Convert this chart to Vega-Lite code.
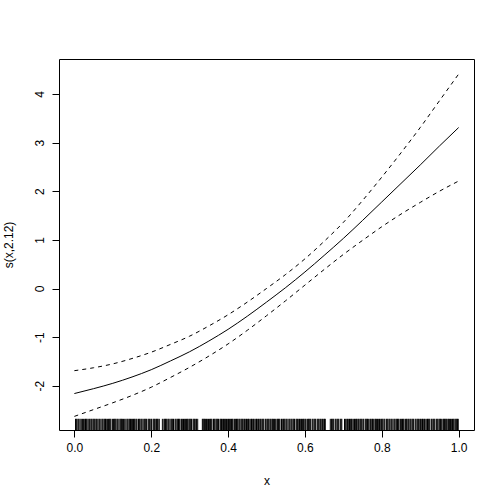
{
  "$schema": "https://vega.github.io/schema/vega-lite/v6.json",
  "autosize": "none",
  "padding": {"left": 59, "top": 59, "right": 30, "bottom": 74},
  "width": 415,
  "height": 371,
  "background": "white",
  "datasets": {
    "fit": [
      {"x": 0.00, "fit": -2.16, "upper": -1.69, "lower": -2.63},
      {"x": 0.05, "fit": -2.06, "upper": -1.63, "lower": -2.49},
      {"x": 0.10, "fit": -1.95, "upper": -1.55, "lower": -2.35},
      {"x": 0.15, "fit": -1.82, "upper": -1.44, "lower": -2.20},
      {"x": 0.20, "fit": -1.67, "upper": -1.31, "lower": -2.03},
      {"x": 0.25, "fit": -1.49, "upper": -1.15, "lower": -1.83},
      {"x": 0.30, "fit": -1.30, "upper": -0.98, "lower": -1.62},
      {"x": 0.35, "fit": -1.08, "upper": -0.77, "lower": -1.39},
      {"x": 0.40, "fit": -0.84, "upper": -0.54, "lower": -1.14},
      {"x": 0.45, "fit": -0.57, "upper": -0.28, "lower": -0.86},
      {"x": 0.50, "fit": -0.28, "upper": 0.00, "lower": -0.56},
      {"x": 0.55, "fit": 0.02, "upper": 0.29, "lower": -0.25},
      {"x": 0.60, "fit": 0.34, "upper": 0.61, "lower": 0.07},
      {"x": 0.65, "fit": 0.68, "upper": 0.97, "lower": 0.39},
      {"x": 0.70, "fit": 1.03, "upper": 1.36, "lower": 0.70},
      {"x": 0.75, "fit": 1.40, "upper": 1.81, "lower": 0.99},
      {"x": 0.80, "fit": 1.78, "upper": 2.29, "lower": 1.27},
      {"x": 0.85, "fit": 2.16, "upper": 2.79, "lower": 1.53},
      {"x": 0.90, "fit": 2.54, "upper": 3.31, "lower": 1.77},
      {"x": 0.95, "fit": 2.93, "upper": 3.86, "lower": 2.00},
      {"x": 1.00, "fit": 3.31, "upper": 4.41, "lower": 2.21}
    ],
    "rug": [
      {"x": 0.003}, {"x": 0.007}, {"x": 0.012}, {"x": 0.015}, {"x": 0.021}, {"x": 0.024}, {"x": 0.029}, {"x": 0.033}, {"x": 0.036}, {"x": 0.041},
      {"x": 0.046}, {"x": 0.049}, {"x": 0.053}, {"x": 0.058}, {"x": 0.061}, {"x": 0.066}, {"x": 0.069}, {"x": 0.074}, {"x": 0.079}, {"x": 0.083},
      {"x": 0.086}, {"x": 0.091}, {"x": 0.095}, {"x": 0.099}, {"x": 0.104}, {"x": 0.108}, {"x": 0.113}, {"x": 0.116}, {"x": 0.121}, {"x": 0.125},
      {"x": 0.128}, {"x": 0.134}, {"x": 0.137}, {"x": 0.142}, {"x": 0.146}, {"x": 0.151}, {"x": 0.154}, {"x": 0.158}, {"x": 0.163}, {"x": 0.167},
      {"x": 0.171}, {"x": 0.176}, {"x": 0.179}, {"x": 0.184}, {"x": 0.188}, {"x": 0.192}, {"x": 0.196}, {"x": 0.201}, {"x": 0.205}, {"x": 0.209},
      {"x": 0.214}, {"x": 0.218}, {"x": 0.229}, {"x": 0.233}, {"x": 0.237}, {"x": 0.241}, {"x": 0.246}, {"x": 0.249}, {"x": 0.254}, {"x": 0.258},
      {"x": 0.262}, {"x": 0.267}, {"x": 0.271}, {"x": 0.275}, {"x": 0.279}, {"x": 0.284}, {"x": 0.287}, {"x": 0.292}, {"x": 0.296}, {"x": 0.301},
      {"x": 0.305}, {"x": 0.309}, {"x": 0.313}, {"x": 0.318}, {"x": 0.321}, {"x": 0.333}, {"x": 0.337}, {"x": 0.341}, {"x": 0.346}, {"x": 0.349},
      {"x": 0.354}, {"x": 0.358}, {"x": 0.362}, {"x": 0.366}, {"x": 0.371}, {"x": 0.375}, {"x": 0.379}, {"x": 0.383}, {"x": 0.388}, {"x": 0.391},
      {"x": 0.396}, {"x": 0.401}, {"x": 0.404}, {"x": 0.409}, {"x": 0.413}, {"x": 0.417}, {"x": 0.422}, {"x": 0.426}, {"x": 0.429}, {"x": 0.434},
      {"x": 0.438}, {"x": 0.443}, {"x": 0.446}, {"x": 0.451}, {"x": 0.455}, {"x": 0.459}, {"x": 0.463}, {"x": 0.468}, {"x": 0.472}, {"x": 0.476},
      {"x": 0.481}, {"x": 0.484}, {"x": 0.489}, {"x": 0.493}, {"x": 0.497}, {"x": 0.502}, {"x": 0.506}, {"x": 0.509}, {"x": 0.514}, {"x": 0.518},
      {"x": 0.523}, {"x": 0.527}, {"x": 0.531}, {"x": 0.535}, {"x": 0.539}, {"x": 0.544}, {"x": 0.548}, {"x": 0.551}, {"x": 0.556}, {"x": 0.561},
      {"x": 0.564}, {"x": 0.569}, {"x": 0.573}, {"x": 0.577}, {"x": 0.581}, {"x": 0.586}, {"x": 0.589}, {"x": 0.594}, {"x": 0.598}, {"x": 0.603},
      {"x": 0.607}, {"x": 0.611}, {"x": 0.615}, {"x": 0.619}, {"x": 0.624}, {"x": 0.628}, {"x": 0.632}, {"x": 0.636}, {"x": 0.641}, {"x": 0.644},
      {"x": 0.649}, {"x": 0.653}, {"x": 0.666}, {"x": 0.671}, {"x": 0.675}, {"x": 0.679}, {"x": 0.684}, {"x": 0.688}, {"x": 0.692}, {"x": 0.696},
      {"x": 0.706}, {"x": 0.711}, {"x": 0.714}, {"x": 0.719}, {"x": 0.723}, {"x": 0.727}, {"x": 0.732}, {"x": 0.736}, {"x": 0.739}, {"x": 0.744},
      {"x": 0.748}, {"x": 0.753}, {"x": 0.757}, {"x": 0.761}, {"x": 0.765}, {"x": 0.769}, {"x": 0.774}, {"x": 0.778}, {"x": 0.782}, {"x": 0.786},
      {"x": 0.791}, {"x": 0.794}, {"x": 0.799}, {"x": 0.803}, {"x": 0.808}, {"x": 0.812}, {"x": 0.816}, {"x": 0.819}, {"x": 0.824}, {"x": 0.829},
      {"x": 0.832}, {"x": 0.837}, {"x": 0.841}, {"x": 0.845}, {"x": 0.849}, {"x": 0.854}, {"x": 0.858}, {"x": 0.862}, {"x": 0.866}, {"x": 0.871},
      {"x": 0.874}, {"x": 0.879}, {"x": 0.883}, {"x": 0.887}, {"x": 0.892}, {"x": 0.896}, {"x": 0.899}, {"x": 0.904}, {"x": 0.908}, {"x": 0.913},
      {"x": 0.917}, {"x": 0.921}, {"x": 0.925}, {"x": 0.929}, {"x": 0.934}, {"x": 0.938}, {"x": 0.942}, {"x": 0.946}, {"x": 0.951}, {"x": 0.955},
      {"x": 0.959}, {"x": 0.963}, {"x": 0.967}, {"x": 0.972}, {"x": 0.976}, {"x": 0.979}, {"x": 0.984}, {"x": 0.988}, {"x": 0.993}, {"x": 0.997},
      {"x": 0.005}, {"x": 0.010}, {"x": 0.018}, {"x": 0.027}, {"x": 0.031}, {"x": 0.039}, {"x": 0.044}, {"x": 0.051}, {"x": 0.056}, {"x": 0.064},
      {"x": 0.072}, {"x": 0.077}, {"x": 0.081}, {"x": 0.089}, {"x": 0.093}, {"x": 0.102}, {"x": 0.106}, {"x": 0.111}, {"x": 0.119}, {"x": 0.123},
      {"x": 0.131}, {"x": 0.139}, {"x": 0.144}, {"x": 0.149}, {"x": 0.156}, {"x": 0.161}, {"x": 0.169}, {"x": 0.174}, {"x": 0.182}, {"x": 0.186},
      {"x": 0.194}, {"x": 0.199}, {"x": 0.207}, {"x": 0.212}, {"x": 0.216}, {"x": 0.221}, {"x": 0.235}, {"x": 0.239}, {"x": 0.244}, {"x": 0.252},
      {"x": 0.256}, {"x": 0.264}, {"x": 0.269}, {"x": 0.273}, {"x": 0.281}, {"x": 0.289}, {"x": 0.294}, {"x": 0.299}, {"x": 0.303}, {"x": 0.311},
      {"x": 0.316}, {"x": 0.335}, {"x": 0.339}, {"x": 0.344}, {"x": 0.352}, {"x": 0.356}, {"x": 0.364}, {"x": 0.369}, {"x": 0.373}, {"x": 0.381},
      {"x": 0.386}, {"x": 0.393}, {"x": 0.399}, {"x": 0.406}, {"x": 0.411}, {"x": 0.419}, {"x": 0.424}, {"x": 0.431}, {"x": 0.436}, {"x": 0.441},
      {"x": 0.448}, {"x": 0.453}, {"x": 0.461}, {"x": 0.466}, {"x": 0.474}, {"x": 0.479}, {"x": 0.486}, {"x": 0.491}, {"x": 0.499}, {"x": 0.504},
      {"x": 0.511}, {"x": 0.516}, {"x": 0.521}, {"x": 0.529}, {"x": 0.533}, {"x": 0.541}, {"x": 0.546}, {"x": 0.553}, {"x": 0.559}, {"x": 0.566},
      {"x": 0.571}, {"x": 0.579}, {"x": 0.584}, {"x": 0.591}, {"x": 0.596}, {"x": 0.601}, {"x": 0.609}, {"x": 0.613}, {"x": 0.621}, {"x": 0.626},
      {"x": 0.634}, {"x": 0.639}, {"x": 0.646}, {"x": 0.651}, {"x": 0.669}, {"x": 0.673}, {"x": 0.681}, {"x": 0.686}, {"x": 0.694}, {"x": 0.703},
      {"x": 0.709}, {"x": 0.716}, {"x": 0.721}, {"x": 0.729}, {"x": 0.734}, {"x": 0.741}, {"x": 0.746}, {"x": 0.751}, {"x": 0.759}, {"x": 0.763},
      {"x": 0.771}, {"x": 0.776}, {"x": 0.784}, {"x": 0.789}, {"x": 0.796}, {"x": 0.801}, {"x": 0.806}, {"x": 0.814}, {"x": 0.821}, {"x": 0.826},
      {"x": 0.834}, {"x": 0.839}, {"x": 0.843}, {"x": 0.851}, {"x": 0.856}, {"x": 0.864}, {"x": 0.869}, {"x": 0.876}, {"x": 0.881}, {"x": 0.889},
      {"x": 0.894}, {"x": 0.901}, {"x": 0.906}, {"x": 0.911}, {"x": 0.919}, {"x": 0.923}, {"x": 0.931}, {"x": 0.936}, {"x": 0.944}, {"x": 0.949},
      {"x": 0.953}, {"x": 0.961}, {"x": 0.965}, {"x": 0.969}, {"x": 0.974}, {"x": 0.981}, {"x": 0.986}, {"x": 0.991}, {"x": 0.995}, {"x": 0.999}
    ]
  },
  "encoding": {
    "x": {
      "field": "x",
      "type": "quantitative",
      "scale": {"domain": [-0.04, 1.04], "nice": false, "zero": false},
      "axis": {
        "title": "x",
        "values": [0, 0.2, 0.4, 0.6, 0.8, 1.0],
        "format": ".1f",
        "grid": false,
        "domain": false,
        "tickSize": 7,
        "tickColor": "black",
        "labelPadding": 5,
        "titlePadding": 22
      }
    }
  },
  "layer": [
    {
      "data": {"name": "rug"},
      "mark": {"type": "rule", "color": "black", "strokeWidth": 1},
      "encoding": {
        "y": {
          "datum": -2.91,
          "type": "quantitative",
          "scale": {"domain": [-2.91, 4.72], "nice": false, "zero": false},
          "axis": {
            "title": "s(x,2.12)",
            "values": [-2, -1, 0, 1, 2, 3, 4],
            "labelExpr": "'' + datum.value",
            "grid": false,
            "domain": false,
            "tickSize": 7,
            "tickColor": "black",
            "labelAngle": -90,
            "labelAlign": "center",
            "labelBaseline": "bottom",
            "labelPadding": 6,
            "titlePadding": 18
          }
        },
        "y2": {"datum": -2.68}
      }
    },
    {
      "data": {"name": "fit"},
      "mark": {"type": "line", "color": "black", "strokeWidth": 1, "interpolate": "monotone"},
      "encoding": {"y": {"field": "fit", "type": "quantitative"}}
    },
    {
      "data": {"name": "fit"},
      "mark": {"type": "line", "color": "black", "strokeWidth": 1, "strokeDash": [4, 4], "interpolate": "monotone"},
      "encoding": {"y": {"field": "upper", "type": "quantitative"}}
    },
    {
      "data": {"name": "fit"},
      "mark": {"type": "line", "color": "black", "strokeWidth": 1, "strokeDash": [4, 4], "interpolate": "monotone"},
      "encoding": {"y": {"field": "lower", "type": "quantitative"}}
    }
  ],
  "config": {
    "view": {"stroke": "black", "strokeWidth": 1},
    "font": "Liberation Sans",
    "axis": {
      "labelFont": "Liberation Sans",
      "titleFont": "Liberation Sans",
      "labelFontSize": 12,
      "titleFontSize": 12,
      "titleFontWeight": "normal",
      "labelColor": "black",
      "titleColor": "black"
    }
  }
}
